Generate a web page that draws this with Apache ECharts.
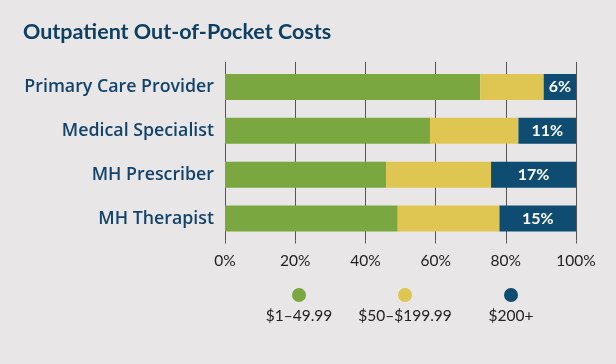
<!DOCTYPE html>
<html><head><meta charset="utf-8">
<script src="https://cdn.jsdelivr.net/npm/echarts@6/dist/echarts.min.js"></script>
<style>html,body{margin:0;padding:0;background:#e8e6e6;}#c{width:616px;height:364px;}</style>
</head><body><div id="c"></div>
<script>
const categories = ['Primary Care Provider','Medical Specialist','MH Prescriber','MH Therapist'];
const seriesNames = ['$1–49.99','$50–$199.99','$200+'];
const low = [72.7, 58.4, 45.9, 49.2];
const mid = [18.1, 25.2, 29.9, 29.0];
const high = [9.2, 16.4, 24.2, 21.8];
const highLabels = ['6%','11%','17%','15%'];
const xTicks = [0,20,40,60,80,100];
const colors = ['#7aa73f','#dfc652','#0e4c72'];
const FONT = 'Lato';
const LFONT = 'Open Sans';

const chart = echarts.init(document.getElementById('c'));
const axisCommon = {type:'value',min:0,max:100,interval:20};
chart.setOption({
  backgroundColor:'#e8e6e6',
  animation:false,
  title:{text:'Outpatient Out-of-Pocket Costs',left:18,top:16,
    textStyle:{fontFamily:FONT,fontWeight:'bold',fontSize:21.5,color:'#0d3f63'}},
  grid:{left:225,right:40,top:65,bottom:123.5},
  xAxis:[
    Object.assign({},axisCommon,{position:'bottom',
      axisLine:{show:false},
      axisTick:{show:true,length:3,lineStyle:{color:'#555',width:1}},
      splitLine:{show:true,lineStyle:{color:'#555',width:1}},
      axisLabel:{margin:12,formatter:v=>v+'%',fontFamily:FONT,fontSize:15.5,color:'#222'}}),
    Object.assign({},axisCommon,{position:'top',
      axisLine:{show:false},
      axisTick:{show:true,length:3,lineStyle:{color:'#555',width:1}},
      splitLine:{show:false},axisLabel:{show:false}})
  ],
  yAxis:{type:'category',data:categories,inverse:true,
    axisLine:{show:false},axisTick:{show:false},
    axisLabel:{margin:11,fontFamily:LFONT,fontWeight:600,fontSize:17.8,color:'#12436b'}},
  legend:{top:282,left:238.5,itemWidth:0,itemHeight:0,itemGap:0,icon:'rect',
    data:seriesNames,selectedMode:false,
    formatter:function(n){const i=seriesNames.indexOf(n);return '{c'+i+'|}\n{t|'+n+'}';},
    textStyle:{fontFamily:FONT,fontSize:15.5,color:'#222',
      rich:{
        c0:{width:14,height:14,borderRadius:7,backgroundColor:colors[0],align:'center',lineHeight:22},
        c1:{width:14,height:14,borderRadius:7,backgroundColor:colors[1],align:'center',lineHeight:22},
        c2:{width:14,height:14,borderRadius:7,backgroundColor:colors[2],align:'center',lineHeight:22},
        t:{width:101,align:'center',fontFamily:FONT,fontSize:15.5,color:'#222',lineHeight:20}
      }}},
  series:[
    {name:seriesNames[0],type:'bar',stack:'a',data:low,barWidth:26,itemStyle:{color:colors[0]}},
    {name:seriesNames[1],type:'bar',stack:'a',data:mid,barWidth:26,itemStyle:{color:colors[1]}},
    {name:seriesNames[2],type:'bar',stack:'a',data:high,barWidth:26,itemStyle:{color:colors[2]},
      label:{show:true,position:'inside',formatter:p=>highLabels[p.dataIndex],
        fontFamily:FONT,fontWeight:'bold',fontSize:16,color:'#fff'}}
  ]
});
</script></body></html>
